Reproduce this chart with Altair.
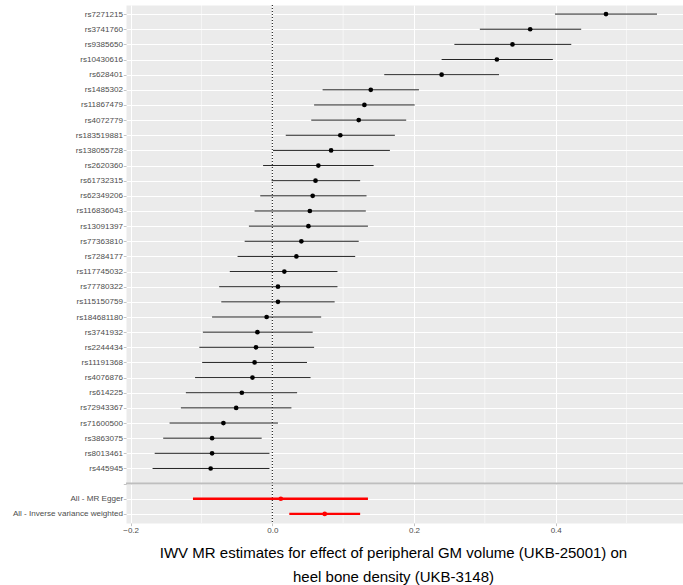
import altair as alt
import pandas as pd

# ---- data ----
snps = ["rs7271215", "rs3741760", "rs9385650", "rs10430616", "rs628401",
        "rs1485302", "rs11867479", "rs4072779", "rs183519881", "rs138055728",
        "rs2620360", "rs61732315", "rs62349206", "rs116836043", "rs13091397",
        "rs77363810", "rs7284177", "rs117745032", "rs77780322", "rs115150759",
        "rs184681180", "rs3741932", "rs2244434", "rs11191368", "rs4076876",
        "rs614225", "rs72943367", "rs71600500", "rs3863075", "rs8013461",
        "rs445945"]
snp_b = [0.471, 0.364, 0.339, 0.317, 0.239,
         0.139, 0.130, 0.122, 0.096, 0.083,
         0.065, 0.061, 0.057, 0.053, 0.051,
         0.041, 0.034, 0.017, 0.008, 0.008,
         -0.008, -0.021, -0.023, -0.025, -0.028,
         -0.043, -0.051, -0.069, -0.085, -0.085,
         -0.087]
snp_lo = [0.399, 0.293, 0.257, 0.239, 0.158,
          0.071, 0.059, 0.055, 0.019, 0.001,
          -0.013, -0.001, -0.017, -0.025, -0.033,
          -0.039, -0.049, -0.060, -0.075, -0.072,
          -0.085, -0.098, -0.103, -0.099, -0.109,
          -0.122, -0.129, -0.145, -0.154, -0.166,
          -0.169]
snp_hi = [0.543, 0.436, 0.422, 0.396, 0.320,
          0.207, 0.201, 0.189, 0.173, 0.166,
          0.143, 0.124, 0.133, 0.132, 0.135,
          0.122, 0.117, 0.092, 0.092, 0.088,
          0.069, 0.057, 0.059, 0.049, 0.054,
          0.035, 0.027, 0.008, -0.015, -0.004,
          -0.004]

summary_labels = ["All - MR Egger", "All - Inverse variance weighted"]
summary_b = [0.012, 0.074]
summary_lo = [-0.112, 0.024]
summary_hi = [0.135, 0.124]

blank = " "
x_major = [-0.2, 0.0, 0.2, 0.4]
x_minor = [-0.1, 0.1, 0.3, 0.5]
ref_line = [0.0]

title_lines = ["IWV MR estimates for effect of peripheral GM volume (UKB-25001) on",
               "heel bone density (UKB-3148)"]

# ---- tables ----
order = snps + [blank] + summary_labels
snp_df = pd.DataFrame({"SNP": snps, "b": snp_b, "lo": snp_lo, "hi": snp_hi})
sum_df = pd.DataFrame({"SNP": summary_labels, "b": summary_b,
                       "lo": summary_lo, "hi": summary_hi})
minor_df = pd.DataFrame({"b": x_minor})
zero_df = pd.DataFrame({"b": ref_line})
blank_df = pd.DataFrame({"SNP": [blank]})

W, H = 557, 518
FONT = "Liberation Sans"

xscale = alt.Scale(domain=[-0.2065, 0.5797], nice=False, zero=False)
yscale = alt.Scale(type="point", domain=order, padding=0.6)

xaxis = alt.Axis(values=x_major, format=".1f", grid=True, gridColor="white",
                 gridWidth=1.07, domain=False, ticks=True, tickColor="#9a9a9a",
                 tickWidth=0.6, tickSize=2.7, labelFont=FONT, labelFontSize=8,
                 labelColor="#4D4D4D", labelPadding=1.2,
                 title=title_lines, titleFont=FONT, titleFontSize=15,
                 titleFontWeight="normal", titleColor="black",
                 titleLineHeight=24, titleBaseline="alphabetic",
                 titleAlign="center", titleX=267, titleY=34)
yaxis = alt.Axis(grid=True, gridColor="white", gridWidth=1.07, domain=False,
                 ticks=True, tickColor="#9a9a9a", tickWidth=0.6, tickSize=2.7,
                 labelFont=FONT, labelFontSize=8.1, labelColor="#4D4D4D",
                 labelPadding=0.7, title=None, labelLimit=300)

X = lambda f: alt.X(f, type="quantitative", scale=xscale, axis=xaxis)
Y = alt.Y("SNP:N", scale=yscale, axis=yaxis, sort=order)

minor = alt.Chart(minor_df).mark_rule(color="white", strokeWidth=0.55).encode(
    x=X("b"))
zero = alt.Chart(zero_df).mark_rule(color="black", strokeWidth=1,
                                    strokeDash=[1, 2]).encode(x=X("b"))
sep = alt.Chart(blank_df).mark_rule(color="#BEBEBE", strokeWidth=2).encode(y=Y)

snp_bars = alt.Chart(snp_df).mark_rule(color="#222222", strokeWidth=1).encode(
    x=X("lo"), x2="hi", y=Y)
snp_pts = alt.Chart(snp_df).mark_circle(color="black", size=22, opacity=1).encode(
    x=X("b"), y=Y)
sum_bars = alt.Chart(sum_df).mark_rule(color="#FF0000", strokeWidth=2.3).encode(
    x=X("lo"), x2="hi", y=Y)
sum_pts = alt.Chart(sum_df).mark_circle(color="#FF0000", size=22, opacity=1).encode(
    x=X("b"), y=Y)

chart = alt.layer(minor, zero, sep, snp_bars, snp_pts, sum_bars, sum_pts).properties(
    width=W, height=H, autosize="none",
    padding={"left": 126, "top": 5, "right": 0, "bottom": 62},
    background="white",
).configure_view(fill="#EBEBEB", stroke="transparent")

chart.save("out.html", embed_options={"renderer": "svg", "actions": False})
